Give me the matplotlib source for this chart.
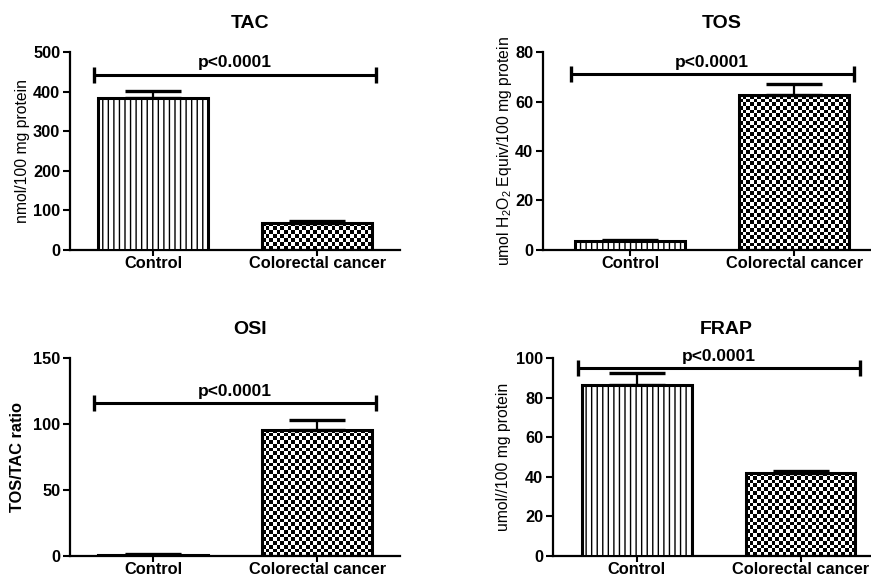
import numpy as np
import matplotlib
matplotlib.use('Agg')
import matplotlib.pyplot as plt

plt.rcParams['font.family'] = ['Liberation Sans', 'DejaVu Sans']
plt.rcParams['hatch.linewidth'] = 1.0
plt.rcParams['mathtext.default'] = 'regular'

groups = ['Control', 'Colorectal cancer']

titles = ['TAC', 'TOS', 'OSI', 'FRAP']
ylabels = ['nmol/100 mg protein',
           r'umol H$_2$O$_2$ Equiv/100 mg protein',
           'TOS/TAC ratio',
           'umol//100 mg protein']

tac_mean = [385, 69]
tac_err = [17, 4]
tos_mean = [3.5, 62.5]
tos_err = [0.5, 4.5]
osi_mean = [1.0, 95.5]
osi_err = [0.3, 7.5]
frap_mean = [86.4, 42]
frap_err = [6, 1]

p_text = 'p<0.0001'
p_level = [443, 71, 116, 95]

ymax = [500, 80, 150, 100]
ystep = [100, 20, 50, 20]

# axes rectangles in figure fraction (left, bottom, width, height)
rects = [
    (0.0804, 0.5675, 0.379, 0.3425),
    (0.6234, 0.5675, 0.3755, 0.3425),
    (0.0804, 0.0381, 0.379, 0.3425),
    (0.6350, 0.0381, 0.3650, 0.3425),
]
xlims = [(-0.506, 1.506), (-0.53, 1.46), (-0.506, 1.506), (-0.51, 1.43)]
label_pads = [2, 1, 6, 4]

means = [tac_mean, tos_mean, osi_mean, frap_mean]
errs = [tac_err, tos_err, osi_err, frap_err]

fig = plt.figure(figsize=(8.71, 5.78), dpi=100)

width = 0.67
x = np.arange(len(groups))

for i in range(4):
    ax = fig.add_axes(rects[i])
    ax.set_xlim(*xlims[i])
    ax.set_ylim(0, ymax[i])
    ax.set_autoscale_on(False)

    bars = ax.bar(x, means[i], width=width, color='white', edgecolor='black',
                  linewidth=2.2, zorder=3)
    # control: vertical lines
    bars[0].set_hatch('|||')

    # cancer: checkerboard fill clipped to the bar
    b = bars[1]
    b.set_facecolor('none')
    x0, y0 = b.get_x(), b.get_y()
    x1, y1 = x0 + b.get_width(), y0 + b.get_height()
    p0 = ax.transData.transform((x0, y0))
    p1 = ax.transData.transform((x1, y1))
    nx = max(1, int(round(abs(p1[0] - p0[0]) / 3.7)))
    ny = max(1, int(round(abs(p1[1] - p0[1]) / 3.7)))
    yy, xx = np.indices((ny, nx))
    checker = (xx + yy) % 2
    im = ax.imshow(checker, extent=(x0, x1, y0, y1), aspect='auto',
                   cmap='gray', interpolation='nearest', origin='lower',
                   zorder=2)
    im.set_clip_path(b)

    ax.errorbar(x, means[i], yerr=[np.zeros(len(x)), errs[i]], fmt='none',
                ecolor='black', elinewidth=1.6, capsize=20, capthick=2.4,
                zorder=2.5)

    # significance bracket
    ax.errorbar(0.5, p_level[i], xerr=0.86, fmt='none', ecolor='black',
                elinewidth=2.2, capsize=5.5, capthick=2.4, clip_on=False,
                zorder=4)
    ax.annotate(p_text, (0.5, p_level[i]), xytext=(0, 3),
                textcoords='offset points', ha='center', va='bottom',
                fontsize=12.5, fontweight='bold')

    ax.set_xticks(x)
    ax.set_xticklabels(groups, fontsize=11.8, fontweight='bold')
    ax.set_yticks(np.arange(0, ymax[i] + 1, ystep[i]))
    ax.tick_params(axis='y', labelsize=11.8, width=1.5, length=5, pad=2)
    ax.tick_params(axis='x', width=1.5, length=4, pad=0.5)
    for lab in ax.get_yticklabels():
        lab.set_fontweight('bold')

    ax.spines['top'].set_visible(False)
    ax.spines['right'].set_visible(False)
    ax.spines['left'].set_linewidth(1.6)
    ax.spines['bottom'].set_linewidth(1.6)

    ax.set_title(titles[i], fontsize=14, fontweight='bold', x=0.545, pad=17)
    if titles[i] == 'OSI':
        ax.set_ylabel(ylabels[i], fontsize=11.8, fontweight='bold',
                      labelpad=label_pads[i])
    else:
        ax.set_ylabel(ylabels[i], fontsize=11.3, labelpad=label_pads[i])

fig.savefig('out.png', dpi=100)
